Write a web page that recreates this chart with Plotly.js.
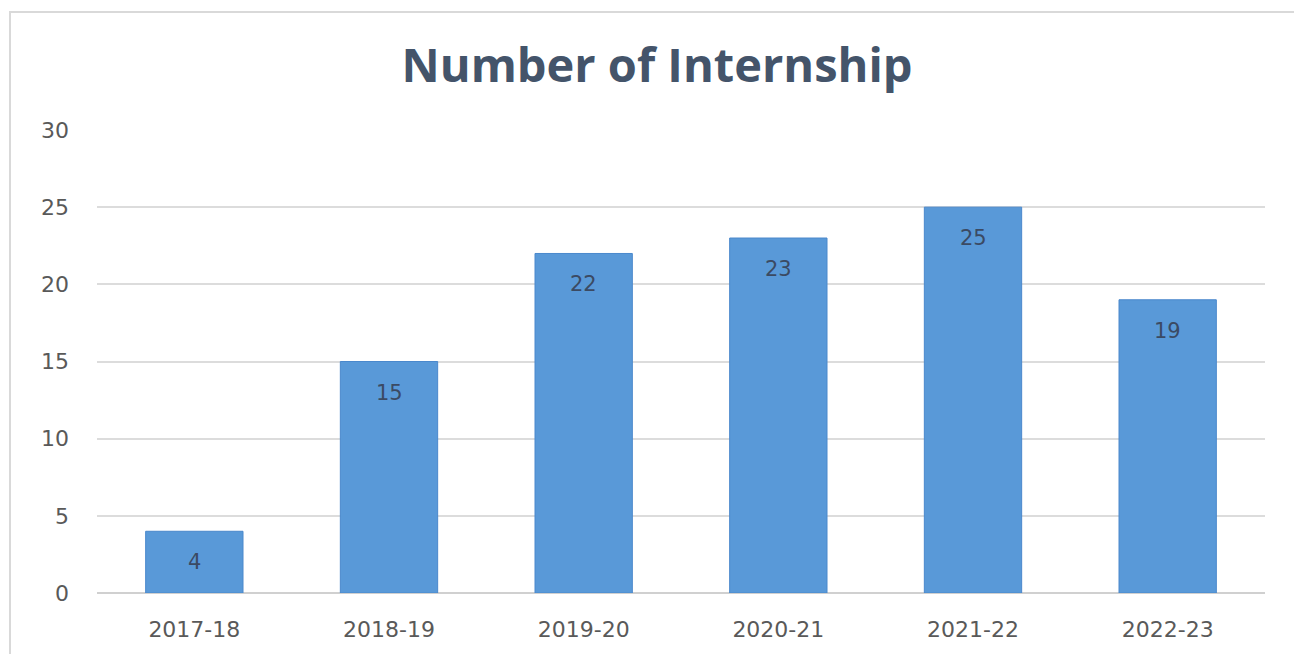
<!DOCTYPE html>
<html>
<head>
<meta charset="utf-8">
<script src="https://cdn.plot.ly/plotly-3.0.1.min.js"></script>
<style>html,body{margin:0;padding:0;background:#fff;}#chart{width:1294px;height:654px;}</style>
</head>
<body>
<div id="chart"></div>
<script>
const categories = ["2017-18", "2018-19", "2019-20", "2020-21", "2021-22", "2022-23"];
const internships = [4, 15, 22, 23, 25, 19];
const yTicks = [0, 5, 10, 15, 20, 25, 30];
const chartTitle = "Number of Internship";

const trace = {
  type: "bar",
  x: categories,
  y: internships,
  marker: { color: "#5999d8", line: { color: "#4a88cc", width: 1 } },
  hoverinfo: "x+y"
};

const labels = categories.map((c, i) => ({
  x: c, y: internships[i], xref: "x", yref: "y",
  text: String(internships[i]), showarrow: false,
  yshift: -31, font: { family: "DejaVu Sans", size: 21, color: "#3b4a63" }
}));

const layout = {
  width: 1294, height: 654,
  margin: { l: 97, r: 29, t: 130, b: 61 },
  paper_bgcolor: "#ffffff", plot_bgcolor: "#ffffff",
  showlegend: false,
  bargap: 0.5,
  title: {
    text: "<b>" + chartTitle + "</b>",
    x: 0.4795, xanchor: "center", xref: "paper",
    y: 1 - 66 / 654, yanchor: "middle", yref: "container",
    font: { family: "Open Sans", size: 47, color: "#44546a" }
  },
  xaxis: {
    type: "category",
    showgrid: false, showline: false, zeroline: false,
    ticks: "", ticklabelstandoff: 21,
    tickfont: { family: "DejaVu Sans", size: 22, color: "#595959" }
  },
  yaxis: {
    range: [0, 30],
    tickvals: yTicks,
    showgrid: true, gridcolor: "#dcdcdc", gridwidth: 2,
    zeroline: true, zerolinecolor: "#d0d0d0", zerolinewidth: 2,
    showline: false, ticks: "", ticklabelstandoff: 27,
    tickfont: { family: "DejaVu Sans", size: 22, color: "#595959" }
  },
  annotations: labels,
  shapes: [{
    type: "rect", xref: "paper", yref: "paper",
    x0: (10 - 97) / 1168, x1: (1310 - 97) / 1168,
    y0: (593 - 670) / 463, y1: (593 - 12) / 463,
    line: { color: "#d9d9d9", width: 2 }, fillcolor: "rgba(0,0,0,0)", layer: "below"
  }]
};

Plotly.newPlot("chart", [trace], layout, { displayModeBar: false, staticPlot: true });
</script>
</body>
</html>
